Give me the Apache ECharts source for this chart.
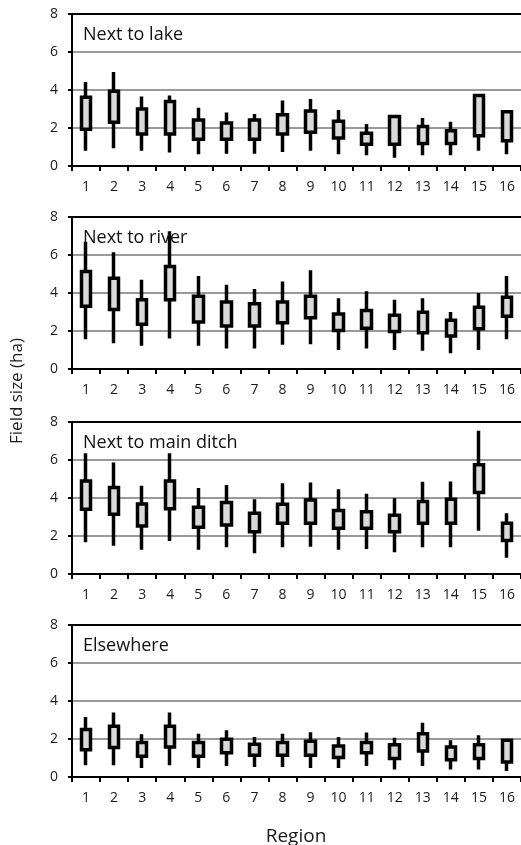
<!DOCTYPE html>
<html>
<head>
<meta charset="utf-8">
<script src="https://cdn.jsdelivr.net/npm/echarts@6/dist/echarts.min.js"></script>
<style>
html,body{margin:0;padding:0;background:#fff;}
#chart{width:521px;height:845px;}
</style>
</head>
<body>
<div id="chart"></div>
<script>
const regions = ['1','2','3','4','5','6','7','8','9','10','11','12','13','14','15','16'];
const panelTitles = ['Next to lake','Next to river','Next to main ditch','Elsewhere'];
const yTicks = [0, 2, 4, 6, 8];

// each row per region: [low, q1, q3, high]
const lake = [
  [0.80,1.94,3.62,4.42],[0.94,2.30,3.94,4.95],[0.80,1.68,3.00,3.66],[0.71,1.68,3.39,3.71],
  [0.62,1.41,2.42,3.06],[0.65,1.41,2.26,2.81],[0.65,1.41,2.42,2.74],[0.74,1.68,2.70,3.45],
  [0.80,1.77,2.90,3.53],[0.62,1.47,2.35,2.95],[0.57,1.15,1.73,2.21],[0.44,1.15,2.60,2.65],
  [0.57,1.18,2.08,2.53],[0.57,1.18,1.86,2.33],[0.80,1.59,3.71,3.75],[0.62,1.33,2.86,2.86]
];
const river = [
  [1.57,3.30,5.13,6.70],[1.36,3.13,4.78,6.14],[1.22,2.35,3.65,4.70],[1.60,3.65,5.39,7.25],
  [1.22,2.47,3.83,4.90],[1.08,2.26,3.53,4.43],[1.08,2.26,3.43,4.21],[1.27,2.43,3.53,4.60],
  [1.30,2.70,3.83,5.20],[1.00,2.03,2.90,3.72],[1.08,2.14,3.08,4.09],[1.00,1.97,2.83,3.65],
  [0.96,1.91,2.99,3.72],[0.83,1.74,2.56,3.00],[1.00,2.12,3.25,4.00],[1.57,2.78,3.77,4.90]
];
const ditch = [
  [1.67,3.41,4.90,6.36],[1.49,3.15,4.55,5.87],[1.27,2.53,3.69,4.64],[1.74,3.44,4.90,6.36],
  [1.27,2.46,3.51,4.52],[1.41,2.58,3.76,4.69],[1.09,2.23,3.20,3.94],[1.41,2.67,3.67,4.78],
  [1.44,2.67,3.90,4.82],[1.27,2.41,3.34,4.46],[1.32,2.41,3.27,4.22],[1.14,2.23,3.09,3.99],
  [1.41,2.67,3.81,4.85],[1.41,2.67,3.94,4.87],[2.28,4.29,5.75,7.54],[0.86,1.76,2.67,3.20]
];
const elsewhere = [
  [0.62,1.44,2.50,3.16],[0.62,1.55,2.67,3.39],[0.47,1.09,1.81,2.25],[0.62,1.58,2.67,3.39],
  [0.47,1.09,1.81,2.28],[0.58,1.27,1.99,2.46],[0.53,1.14,1.72,2.11],[0.53,1.14,1.81,2.28],
  [0.47,1.14,1.88,2.36],[0.47,1.02,1.63,2.11],[0.58,1.27,1.81,2.34],[0.40,0.97,1.70,2.07],
  [0.58,1.37,2.28,2.85],[0.40,0.91,1.58,1.93],[0.40,0.97,1.70,2.20],[0.32,0.79,1.93,1.99]
];
const panels = [lake, river, ditch, elsewhere];

const gridTops = [14, 217, 422, 625];
const gridH = 152;
const FONT = '"Open Sans", "Liberation Sans", sans-serif';

const grids = [], xAxes = [], yAxes = [], series = [], titles = [];
panels.forEach((data, i) => {
  grids.push({left: 72, right: -2, top: gridTops[i], height: gridH, containLabel: false});
  xAxes.push({
    type: 'category', gridIndex: i, data: regions,
    axisLine: {show: true, lineStyle: {color: '#000', width: 2}},
    axisTick: {show: true, alignWithLabel: false, length: 5, inside: false, lineStyle: {color: '#000', width: 2}},
    axisLabel: {color: '#1a1a1a', fontSize: 14, fontFamily: FONT, margin: 14, interval: 0},
    splitLine: {show: false}
  });
  xAxes.push({
    type: 'category', gridIndex: i, data: regions, position: 'top',
    axisLine: {show: true, lineStyle: {color: '#000', width: 2}},
    axisTick: {show: false}, axisLabel: {show: false}, splitLine: {show: false}
  });
  yAxes.push({
    type: 'value', gridIndex: i, min: yTicks[0], max: yTicks[yTicks.length - 1], interval: 2,
    axisLine: {show: true, lineStyle: {color: '#000', width: 2}},
    axisTick: {show: true, length: 4, lineStyle: {color: '#000', width: 2}},
    axisLabel: {color: '#1a1a1a', fontSize: 14, fontFamily: FONT, margin: 14,
      formatter: v => yTicks.indexOf(v) >= 0 ? String(v) : ''},
    splitLine: {show: true, lineStyle: {color: '#9a9a9a', width: 2}}
  });
  series.push({
    type: 'candlestick', xAxisIndex: i * 2, yAxisIndex: i,
    barWidth: 10,
    data: data.map(r => [r[1], r[2], r[0], r[3]]),
    itemStyle: {color: '#d9d9d9', color0: '#d9d9d9', borderColor: '#000', borderColor0: '#000', borderWidth: 3.5},
    z: 5
  });
  titles.push({
    text: panelTitles[i], left: 78, top: gridTops[i] + 7,
    textStyle: {fontSize: 18, fontWeight: 'normal', color: '#111', fontFamily: FONT}
  });
});

const chart = echarts.init(document.getElementById('chart'), null, {renderer: 'canvas'});
chart.setOption({
  animation: false,
  backgroundColor: '#fff',
  title: titles,
  grid: grids,
  xAxis: xAxes,
  yAxis: yAxes,
  series: series,
  graphic: [
    {type: 'text', x: 296, y: 837, style: {text: 'Region', font: '19px ' + FONT, fill: '#1a1a1a', align: 'center', verticalAlign: 'middle'}},
    {type: 'text', rotation: Math.PI / 2, x: 17, y: 391, style: {text: 'Field size (ha)', font: '17px ' + FONT, fill: '#1a1a1a', align: 'center', verticalAlign: 'middle'}}
  ]
});
</script>
</body>
</html>
